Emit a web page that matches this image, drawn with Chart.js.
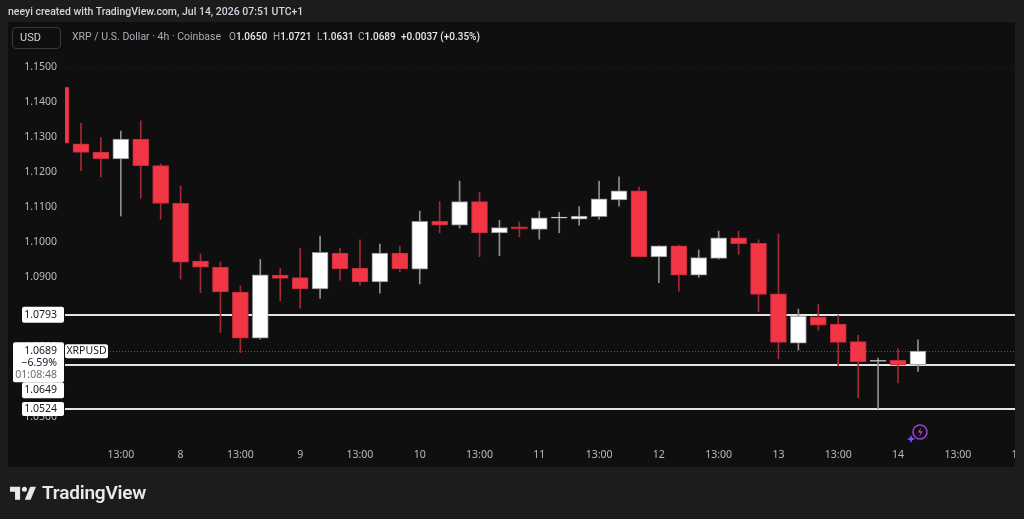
<!DOCTYPE html>
<html>
<head>
<meta charset="utf-8">
<script src="https://cdn.jsdelivr.net/npm/chart.js@4.4.1/dist/chart.umd.min.js"></script>
<style>
  html, body { margin: 0; padding: 0; background: #1c1c1c; }
  body { width: 1024px; height: 519px; position: relative; overflow: hidden; font-family: Roboto, "Noto Sans", sans-serif; }
  #chart { position: absolute; left: 0; top: 0; }
  .txt { position: absolute; white-space: nowrap; }
  #credit { left: 8px; top: 5px; font-size: 10.5px; font-weight: 500; color: #d1d4dc; }
  #usd { left: 12px; top: 27px; width: 49px; height: 22px; box-sizing: border-box; border: 1px solid #3a3a3a; border-radius: 4px;
         background: #0f0f0f; font-size: 11px; color: #d1d4dc; line-height: 20px; padding-left: 7px; }
  .lg { top: 30px; font-size: 10px; line-height: 14px; color: #a9acb5; }
  .lg b { color: #e8e8e8; font-weight: 500; }
  #logo { left: 10px; top: 481px; color: #e8e8e8; font-size: 19px; font-weight: 600; letter-spacing: -0.2px; }
  #logo svg { vertical-align: -1px; margin-right: 6px; }
  #bolt { left: 905px; top: 422px; }
</style>
</head>
<body>
<canvas id="chart" width="1024" height="519"></canvas>
<div class="txt" id="credit">neeyi created with TradingView.com, Jul 14, 2026 07:51 UTC+1</div>
<div class="txt" id="usd">USD</div>
<div class="txt lg" style="left:72px; font-size:10.5px">XRP / U.S. Dollar · 4h · Coinbase</div>
<div class="txt lg" style="left:229px">O<b>1.0650</b></div>
<div class="txt lg" style="left:273px">H<b>1.0721</b></div>
<div class="txt lg" style="left:317px">L<b>1.0631</b></div>
<div class="txt lg" style="left:358px">C<b>1.0689</b></div>
<div class="txt lg" style="left:401px"><b>+0.0037 (+0.35%)</b></div>
<div class="txt" id="logo"><svg width="26" height="15" viewBox="0 0 36 20"><path d="M14 20H7V9H0V2h14z" fill="#e8e8e8"/><circle cx="20" cy="5.5" r="3.5" fill="#e8e8e8"/><path d="M28 2h8l-7.5 18h-8z" fill="#e8e8e8"/></svg>TradingView</div>
<div class="txt" id="bolt"><svg width="26" height="22" viewBox="0 0 26 22"><circle cx="15" cy="10" r="7" fill="none" stroke="#a33ccf" stroke-width="1.6"/><path d="M16.5 5l-4 5.5h3l-1.5 4.5 4-5.8h-3z" fill="#a33ccf"/><path d="M6 13l1.2 2.8L10 17l-2.8 1.2L6 21l-1.2-2.8L2 17l2.8-1.2z" fill="#7b4dff"/></svg></div>

<script>
//DATA - XRP / USD, 4h candles, Jul 7 01:00 -> Jul 14 05:00
const opens  = [1.1443, 1.1281, 1.1258, 1.1238, 1.1295, 1.1219, 1.1111, 1.0946, 1.0929, 1.0858, 1.0726,
                1.0906, 1.0899, 1.0867, 1.0969, 1.0926, 1.0887, 1.0969, 1.0923, 1.1060, 1.1049, 1.1116,
                1.1027, 1.1044, 1.1037, 1.1069, 1.1066, 1.1073, 1.1121, 1.1147, 1.0958, 1.0990, 1.0906,
                1.0954, 1.1013, 1.0997, 1.0853, 1.0712, 1.0787, 1.0766, 1.0716, 1.0660, 1.0663, 1.0650];
const highs  = [1.1450, 1.1340, 1.1299, 1.1318, 1.1347, 1.1224, 1.1161, 1.0967, 1.0944, 1.0876, 1.0951,
                1.0926, 1.0983, 1.1018, 1.0983, 1.1007, 1.0995, 1.0989, 1.1089, 1.1116, 1.1175, 1.1142,
                1.1063, 1.1058, 1.1089, 1.1086, 1.1102, 1.1175, 1.1187, 1.1158, 1.0990, 1.0992, 1.0978,
                1.1032, 1.1032, 1.1007, 1.1024, 1.0809, 1.0822, 1.0792, 1.0734, 1.0669, 1.0696, 1.0721];
const lows   = [1.1270, 1.1205, 1.1187, 1.1075, 1.1126, 1.1066, 1.0895, 1.0856, 1.0742, 1.0685, 1.0723,
                1.0833, 1.0812, 1.0840, 1.0892, 1.0878, 1.0855, 1.0916, 1.0881, 1.1027, 1.1041, 1.0959,
                1.0962, 1.1016, 1.1009, 1.1027, 1.1049, 1.1066, 1.1103, 1.0959, 1.0885, 1.0860, 1.0900,
                1.0952, 1.0966, 1.0802, 1.0667, 1.0692, 1.0749, 1.0647, 1.0556, 1.0524, 1.0598, 1.0631];
const closes = [1.1283, 1.1257, 1.1239, 1.1295, 1.1219, 1.1111, 1.0943, 1.0929, 1.0858, 1.0726, 1.0907,
                1.0897, 1.0867, 1.0971, 1.0924, 1.0887, 1.0969, 1.0924, 1.1060, 1.1049, 1.1116, 1.1027,
                1.1042, 1.1038, 1.1070, 1.1069, 1.1075, 1.1124, 1.1147, 1.0959, 1.0990, 1.0906, 1.0956,
                1.1013, 1.0996, 1.0851, 1.0714, 1.0789, 1.0763, 1.0714, 1.0659, 1.0661, 1.0649, 1.0689];

const xTickIdx  = [3, 6, 9, 12, 15, 18, 21, 24, 27, 30, 33, 36, 39, 42, 45, 48];
const xTickText = ['13:00', '8', '13:00', '9', '13:00', '10', '13:00', '11', '13:00', '12', '13:00', '13', '13:00', '14', '13:00', '15'];

const levels    = [1.0793, 1.0649, 1.0524];   // horizontal lines drawn on chart
const topDotted = 1.1500;
const lastClose = 1.0689;
const changePct = '\u22126.59%';
const countdown = '01:08:48';
const symbol    = 'XRPUSD';

//COLORS
const upColor = '#ffffff', downColor = '#f23645';
const isUp = closes.map((c, i) => c >= opens[i]);

//PLUGIN - pane background, drawn levels and price tags
function hLine(ctx, area, y) {
    ctx.beginPath();
    ctx.moveTo(area.left, y);
    ctx.lineTo(area.right, y);
    ctx.stroke();
}

function tag(ctx, x1, x2, top, h, lines) {
    ctx.fillStyle = '#ffffff';
    ctx.beginPath();
    ctx.roundRect(x1, top, x2 - x1, h, 2);
    ctx.fill();
    lines.forEach(l => {
        ctx.fillStyle = l.color || '#131722';
        ctx.textAlign = l.align || 'right';
        ctx.fillText(l.text, l.x, l.y);
    });
}

const tvLook = {
    id: 'tvLook',
    beforeDraw(chart) {
        const { ctx, chartArea: a, scales } = chart;
        ctx.save();
        ctx.fillStyle = '#1c1c1c';
        ctx.fillRect(0, 0, chart.width, chart.height);
        ctx.fillStyle = '#0f0f0f';
        ctx.fillRect(scales.y.left, a.top, a.right - scales.y.left, scales.x.bottom - a.top);
        ctx.restore();
    },
    beforeDatasetsDraw(chart) {
        const { ctx, chartArea: a, scales: { y } } = chart;
        ctx.save();
        ctx.lineWidth = 1;
        ctx.setLineDash([1, 2]);
        ctx.strokeStyle = '#242424';
        hLine(ctx, a, Math.round(y.getPixelForValue(topDotted)) + 0.5);
        ctx.strokeStyle = '#5a5a5a';
        hLine(ctx, a, Math.round(y.getPixelForValue(lastClose)) + 0.5);
        ctx.setLineDash([]);
        ctx.strokeStyle = '#e4e4e4';
        ctx.lineWidth = 2;
        levels.forEach(v => hLine(ctx, a, Math.round(y.getPixelForValue(v))));
        ctx.restore();
    },
    afterDraw(chart) {
        const { ctx, chartArea: a, scales: { y } } = chart;
        ctx.save();
        // hide the tick label overflowing the pane on the right
        ctx.fillStyle = '#1c1c1c';
        ctx.fillRect(a.right, 0, chart.width - a.right, chart.height);

        ctx.font = '10.5px "Noto Sans"';
        ctx.textBaseline = 'middle';
        const r = y.right - 8;

        let yc = y.getPixelForValue(levels[0]);
        tag(ctx, 22, y.right - 1, yc - 8, 16, [{ text: levels[0].toFixed(4), x: r, y: yc }]);

        yc = y.getPixelForValue(lastClose);
        tag(ctx, 13, y.right - 1, yc - 9, 40, [
            { text: lastClose.toFixed(4), x: r, y: yc },
            { text: changePct, x: r, y: yc + 12 },
            { text: countdown, x: r, y: yc + 24, color: '#6a6d78' }
        ]);
        tag(ctx, 22, y.right - 1, yc + 31, 16, [{ text: levels[1].toFixed(4), x: r, y: yc + 38.5 }]);
        tag(ctx, y.right, y.right + 43, yc - 7, 14, [{ text: symbol, x: y.right + 21.5, y: yc, align: 'center' }]);

        yc = y.getPixelForValue(levels[2]);
        tag(ctx, 22, y.right - 1, yc - 7, 14, [{ text: levels[2].toFixed(4), x: r, y: yc }]);
        ctx.restore();
    }
};

//CHART
const tickFont = { family: '"Noto Sans"', size: 10.5 };

new Chart(document.getElementById('chart'), {
    type: 'bar',
    data: {
        datasets: [{
            label: symbol,
            data: closes.map((c, i) => ({ x: i, y: [opens[i], c] })),
            backgroundColor: isUp.map(u => u ? upColor : downColor),
            borderColor: isUp.map(u => u ? '#8c8c8c' : '#c02c3a'),
            borderWidth: 1,
            borderSkipped: false,
            barThickness: 16,
            minBarLength: 1,
            grouped: false,
            clip: 0,
            order: 0
        }, {
            label: 'wicks',
            data: highs.map((h, i) => ({ x: i, y: [lows[i], h] })),
            backgroundColor: isUp.map(u => u ? '#8f8f8f' : '#a22a36'),
            barThickness: 1,
            grouped: false,
            clip: 0,
            order: 1
        }]
    },
    options: {
        responsive: false,
        animation: false,
        layout: { padding: { left: 8, right: 9, top: 22, bottom: 52 } },
        plugins: { legend: { display: false }, tooltip: { enabled: false } },
        scales: {
            x: {
                type: 'linear',
                offset: false,
                min: 0.2,
                max: 47.87,
                grid: { display: false, drawTicks: false },
                border: { display: false },
                afterBuildTicks: s => { s.ticks = xTickIdx.map(v => ({ value: v })); },
                afterFit: s => { s.height = 27; s.paddingLeft = 0; s.paddingRight = 0; },
                ticks: {
                    autoSkip: false,
                    maxRotation: 0,
                    padding: 9,
                    color: '#b8bbc2',
                    font: tickFont,
                    callback: (v, i) => xTickText[i]
                }
            },
            y: {
                position: 'left',
                min: 1.043514,
                max: 1.162943,
                grid: { display: false, drawTicks: false },
                border: { display: false },
                afterFit: s => { s.width = 57; s.paddingTop = 0; s.paddingBottom = 0; },
                ticks: {
                    stepSize: 0.01,
                    includeBounds: false,
                    padding: 8,
                    color: '#b8bbc2',
                    font: tickFont,
                    callback: v => v.toFixed(4)
                }
            }
        }
    },
    plugins: [tvLook]
});
</script>
</body>
</html>
